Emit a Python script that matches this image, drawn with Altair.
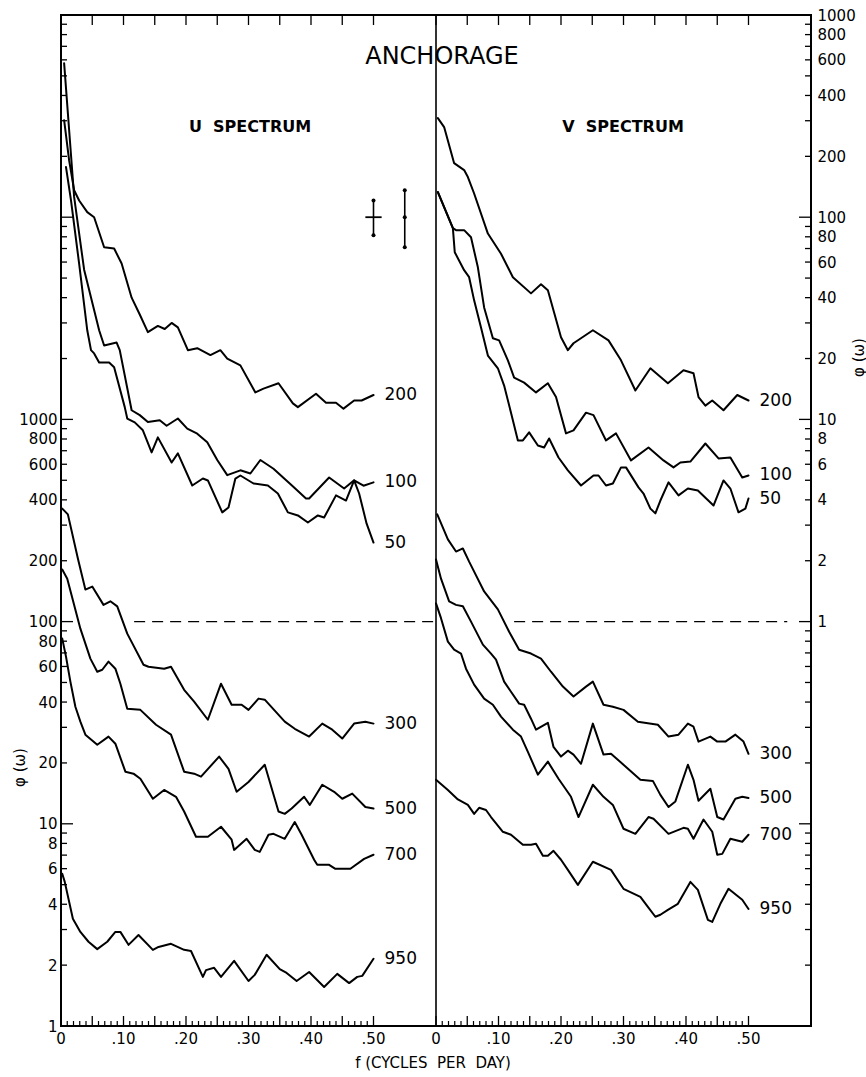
import altair as alt
import pandas as pd

# ---------------- data ----------------
# Upper group (read on the right-hand axis), U spectrum
U200_F = [0.005, 0.013, 0.021, 0.029, 0.042, 0.053, 0.069, 0.085, 0.097, 0.113, 0.126, 0.139, 0.155, 0.166, 0.177, 0.187, 0.203, 0.218, 0.239, 0.255, 0.266, 0.287, 0.311, 0.324, 0.348, 0.371, 0.379, 0.408, 0.424, 0.440, 0.452, 0.469, 0.481, 0.500]
U200_PHI = [302, 191, 136, 121, 106, 100, 71, 70, 59, 40, 33, 27, 29, 28, 30, 28.5, 22, 22.5, 20.8, 22, 20, 18.5, 13.6, 14.2, 15.1, 12.0, 11.5, 13.4, 12.1, 12.1, 11.3, 12.4, 12.4, 13.2]
U100_F = [0.005, 0.013, 0.021, 0.037, 0.061, 0.069, 0.089, 0.094, 0.113, 0.126, 0.139, 0.158, 0.169, 0.187, 0.202, 0.218, 0.234, 0.250, 0.266, 0.287, 0.303, 0.319, 0.340, 0.373, 0.392, 0.397, 0.429, 0.453, 0.469, 0.484, 0.500]
U100_PHI = [578, 270, 126, 55, 27.6, 23.2, 24, 22, 11.1, 10.5, 9.7, 9.9, 9.3, 10.1, 9.0, 8.5, 7.7, 6.3, 5.3, 5.6, 5.4, 6.3, 5.7, 4.6, 4.06, 4.06, 5.16, 4.55, 5.0, 4.7, 4.88]
U50_F = [0.008, 0.016, 0.029, 0.042, 0.048, 0.053, 0.061, 0.077, 0.085, 0.102, 0.106, 0.118, 0.131, 0.145, 0.155, 0.177, 0.187, 0.210, 0.227, 0.235, 0.258, 0.268, 0.279, 0.287, 0.308, 0.331, 0.347, 0.363, 0.379, 0.395, 0.411, 0.421, 0.440, 0.456, 0.469, 0.477, 0.489, 0.500]
U50_PHI = [177, 121, 59, 27.6, 22, 21.2, 19.1, 19.1, 18.1, 11.5, 10.1, 9.67, 8.83, 6.87, 8.15, 6.12, 6.79, 4.71, 5.10, 4.99, 3.47, 3.67, 5.10, 5.28, 4.82, 4.71, 4.30, 3.47, 3.35, 3.09, 3.35, 3.27, 4.21, 3.97, 4.99, 4.30, 3.05, 2.46]

# Upper group, V spectrum
V200_F = [0.003, 0.013, 0.029, 0.045, 0.051, 0.061, 0.083, 0.104, 0.123, 0.152, 0.168, 0.179, 0.200, 0.211, 0.220, 0.251, 0.276, 0.296, 0.319, 0.343, 0.371, 0.396, 0.412, 0.420, 0.431, 0.442, 0.460, 0.482, 0.500]
V200_PHI = [309, 279, 185, 171, 158, 131, 83, 66, 50.5, 42, 46.6, 43.5, 25.5, 22, 23.8, 27.6, 24.6, 19.6, 13.9, 17.9, 15.1, 17.5, 16.9, 12.9, 11.7, 12.4, 11.1, 13.2, 12.4]
V100_F = [0.003, 0.027, 0.032, 0.045, 0.056, 0.067, 0.077, 0.091, 0.101, 0.115, 0.125, 0.141, 0.160, 0.179, 0.192, 0.208, 0.220, 0.240, 0.252, 0.272, 0.288, 0.312, 0.340, 0.364, 0.380, 0.391, 0.407, 0.431, 0.452, 0.471, 0.490, 0.500]
V100_PHI = [133, 88.3, 86.3, 86.3, 79.6, 56.5, 35.8, 25.2, 24.6, 19.6, 16.1, 15.2, 13.6, 15.1, 12.9, 8.53, 8.83, 10.8, 10.5, 7.87, 8.53, 6.27, 7.26, 6.27, 5.79, 6.12, 6.19, 7.60, 6.41, 6.48, 5.16, 5.28]
V50_F = [0.003, 0.027, 0.030, 0.045, 0.053, 0.061, 0.072, 0.083, 0.099, 0.109, 0.120, 0.131, 0.139, 0.149, 0.163, 0.173, 0.181, 0.196, 0.211, 0.232, 0.252, 0.260, 0.272, 0.283, 0.296, 0.304, 0.324, 0.332, 0.343, 0.351, 0.359, 0.372, 0.388, 0.403, 0.419, 0.444, 0.460, 0.471, 0.484, 0.495, 0.500]
V50_PHI = [133, 88.3, 67.1, 54.7, 50.5, 38.8, 28.5, 20.7, 17.9, 14.7, 10.8, 7.87, 7.87, 8.63, 7.43, 7.26, 8.05, 6.48, 5.60, 4.71, 5.28, 5.28, 4.71, 4.82, 5.79, 5.79, 4.61, 4.30, 3.62, 3.43, 3.97, 4.88, 4.21, 4.55, 4.45, 3.75, 4.99, 4.55, 3.47, 3.62, 4.06]

# Lower group (read on the left-hand axis), U spectrum
U300_F = [0.002, 0.011, 0.027, 0.039, 0.050, 0.068, 0.079, 0.090, 0.106, 0.132, 0.140, 0.165, 0.176, 0.197, 0.213, 0.235, 0.256, 0.273, 0.289, 0.300, 0.316, 0.326, 0.358, 0.374, 0.397, 0.418, 0.434, 0.450, 0.469, 0.487, 0.500]
U300_PHI = [362, 339, 205, 144, 149, 121, 126, 119, 87.2, 61.2, 59.8, 58.5, 59.8, 46.0, 40.2, 32.7, 49.3, 38.8, 38.8, 36.6, 41.6, 41.1, 32.0, 29.5, 27.0, 31.3, 29.2, 26.4, 31.3, 32.0, 31.3]
U500_F = [0.002, 0.010, 0.031, 0.047, 0.058, 0.066, 0.076, 0.087, 0.095, 0.106, 0.127, 0.152, 0.176, 0.197, 0.213, 0.224, 0.253, 0.268, 0.281, 0.300, 0.326, 0.348, 0.358, 0.369, 0.389, 0.398, 0.418, 0.437, 0.450, 0.466, 0.487, 0.500]
U500_PHI = [181, 163, 92.3, 65.6, 56.5, 57.8, 63.4, 58.5, 49.3, 37.1, 36.6, 30.9, 27.6, 18.1, 17.7, 17.1, 21.5, 18.7, 14.4, 16.1, 19.6, 11.5, 11.2, 11.9, 13.6, 12.4, 15.6, 14.4, 13.3, 14.1, 12.1, 11.9]
U700_F = [0.002, 0.008, 0.015, 0.023, 0.031, 0.039, 0.058, 0.076, 0.087, 0.103, 0.116, 0.127, 0.147, 0.165, 0.184, 0.197, 0.216, 0.235, 0.256, 0.273, 0.277, 0.297, 0.310, 0.318, 0.332, 0.340, 0.358, 0.374, 0.385, 0.405, 0.410, 0.429, 0.439, 0.463, 0.485, 0.500]
U700_PHI = [82.4, 67.1, 50.5, 37.9, 32.0, 27.6, 24.6, 27.0, 24.9, 18.1, 17.7, 16.7, 13.3, 14.7, 13.6, 11.5, 8.63, 8.63, 9.67, 8.34, 7.43, 8.43, 7.43, 7.26, 8.83, 8.92, 8.43, 10.2, 8.83, 6.64, 6.27, 6.27, 5.99, 5.99, 6.71, 7.03]
U950_F = [0.002, 0.006, 0.019, 0.031, 0.044, 0.058, 0.074, 0.087, 0.095, 0.108, 0.124, 0.147, 0.156, 0.176, 0.197, 0.208, 0.227, 0.232, 0.245, 0.256, 0.277, 0.300, 0.310, 0.329, 0.350, 0.361, 0.377, 0.397, 0.421, 0.442, 0.461, 0.474, 0.482, 0.500]
U950_PHI = [5.66, 5.16, 3.39, 2.92, 2.61, 2.40, 2.61, 2.92, 2.92, 2.52, 2.82, 2.38, 2.46, 2.55, 2.38, 2.35, 1.75, 1.89, 1.94, 1.75, 2.10, 1.67, 1.79, 2.25, 1.91, 1.83, 1.67, 1.85, 1.56, 1.81, 1.63, 1.75, 1.77, 2.15]

# Lower group, V spectrum
V300_F = [0.002, 0.019, 0.032, 0.043, 0.053, 0.077, 0.099, 0.117, 0.133, 0.152, 0.168, 0.184, 0.203, 0.220, 0.240, 0.251, 0.268, 0.283, 0.300, 0.323, 0.355, 0.372, 0.388, 0.403, 0.412, 0.420, 0.439, 0.450, 0.463, 0.479, 0.492, 0.500]
V300_PHI = [339, 255, 222, 230, 198, 141, 115, 89.1, 72.6, 69.5, 65.6, 56.5, 47.7, 42.6, 47.7, 50.5, 38.8, 37.9, 36.6, 32.0, 30.9, 27.0, 27.6, 31.3, 30.2, 25.5, 27.0, 25.5, 25.5, 27.6, 25.5, 22.2]
V500_F = [0.0, 0.008, 0.021, 0.032, 0.043, 0.056, 0.075, 0.088, 0.096, 0.109, 0.120, 0.133, 0.141, 0.152, 0.160, 0.179, 0.188, 0.200, 0.211, 0.220, 0.232, 0.251, 0.268, 0.280, 0.300, 0.327, 0.347, 0.359, 0.372, 0.383, 0.403, 0.412, 0.420, 0.439, 0.450, 0.460, 0.479, 0.490, 0.500]
V500_PHI = [203, 163, 126, 121, 119, 100, 76.9, 69.5, 64.9, 50.5, 45.0, 39.3, 38.8, 33.1, 29.2, 31.6, 24.0, 21.5, 23.0, 22.0, 19.8, 31.3, 22.0, 22.2, 19.6, 16.5, 16.3, 13.9, 12.1, 12.9, 19.6, 16.5, 13.0, 14.9, 10.8, 10.5, 13.3, 13.6, 13.4]
V700_F = [0.0, 0.008, 0.019, 0.029, 0.040, 0.048, 0.061, 0.077, 0.091, 0.104, 0.123, 0.136, 0.147, 0.163, 0.179, 0.196, 0.216, 0.228, 0.251, 0.268, 0.283, 0.300, 0.319, 0.340, 0.348, 0.372, 0.396, 0.403, 0.412, 0.428, 0.442, 0.450, 0.458, 0.471, 0.490, 0.500]
V700_PHI = [123, 104, 79.6, 72.6, 69.5, 58.5, 48.8, 41.6, 38.8, 33.9, 29.2, 27.0, 22.7, 17.5, 20.3, 16.7, 13.6, 10.8, 15.6, 13.6, 12.4, 9.45, 8.92, 10.8, 10.6, 8.92, 9.55, 9.45, 8.43, 10.5, 9.13, 7.03, 7.10, 8.43, 8.15, 8.83]
V950_F = [0.0, 0.019, 0.035, 0.051, 0.061, 0.069, 0.080, 0.088, 0.107, 0.120, 0.139, 0.152, 0.160, 0.171, 0.179, 0.188, 0.200, 0.211, 0.227, 0.251, 0.280, 0.300, 0.327, 0.339, 0.351, 0.359, 0.371, 0.387, 0.407, 0.419, 0.435, 0.442, 0.455, 0.468, 0.490, 0.500]
V950_PHI = [16.5, 14.7, 13.2, 12.4, 11.2, 12.0, 11.7, 10.8, 9.13, 8.83, 7.87, 7.87, 7.96, 6.95, 6.95, 7.35, 6.64, 5.92, 4.99, 6.49, 5.92, 4.77, 4.35, 3.88, 3.47, 3.55, 3.75, 4.02, 5.16, 4.71, 3.35, 3.27, 4.02, 4.77, 4.21, 3.79]

# Confidence-interval markers (right-axis units, U panel)
ERR_F = [0.50, 0.55]
ERR_LO = [81.5, 71.0]
ERR_HI = [121.0, 136.0]
ERR_MID = [100.0, 100.0]
ERR_HALF = [0.013, 0.0]

# Dashed reference level (left-axis units)
DASH_PANEL = ["U", "V"]
DASH_FROM = [0.117, 0.125]
DASH_TO = [0.600, 0.562]
DASH_LEVEL = [100, 100]

# Tick labels and texts
LEFT_LABELS = [1, 2, 4, 6, 8, 10, 20, 40, 60, 80, 100, 200, 400, 600, 800, 1000]
RIGHT_LABELS = [1, 2, 4, 6, 8, 10, 20, 40, 60, 80, 100, 200, 400, 600, 800, 1000]
FREQ_LABELS = [0.0, 0.1, 0.2, 0.3, 0.4, 0.5]
FREQ_LABEL_TEXT = ["0", ".10", ".20", ".30", ".40", ".50"]
NB = "\u00a0"
X_TITLE = f"f{NB}(CYCLES{NB}{NB}PER{NB}{NB}DAY)"
U_TITLE = f"U{NB}{NB}SPECTRUM"
V_TITLE = f"V{NB}{NB}SPECTRUM"
PANEL_SPAN = 0.6

# ---------------- layout ----------------
W, H = 750, 1011
FONT = "DejaVu Sans"

series = [
    ("U", "200", "upper", U200_F, U200_PHI),
    ("U", "100", "upper", U100_F, U100_PHI),
    ("U", "50", "upper", U50_F, U50_PHI),
    ("V", "200", "upper", V200_F, V200_PHI),
    ("V", "100", "upper", V100_F, V100_PHI),
    ("V", "50", "upper", V50_F, V50_PHI),
    ("U", "300", "lower", U300_F, U300_PHI),
    ("U", "500", "lower", U500_F, U500_PHI),
    ("U", "700", "lower", U700_F, U700_PHI),
    ("U", "950", "lower", U950_F, U950_PHI),
    ("V", "300", "lower", V300_F, V300_PHI),
    ("V", "500", "lower", V500_F, V500_PHI),
    ("V", "700", "lower", V700_F, V700_PHI),
    ("V", "950", "lower", V950_F, V950_PHI),
]
rows = []
for panel, depth, grp, fs, vs in series:
    for i, (f, v) in enumerate(zip(fs, vs)):
        rows.append({"panel": panel, "depth": depth, "grp": grp, "f": f,
                     "phi": v, "i": i, "key": panel + depth})
df = pd.DataFrame(rows)
df_lower = df[df.grp == "lower"]
df_upper = df[df.grp == "upper"]
lab_lower = df_lower.groupby("key").tail(1)
lab_upper = df_upper.groupby("key").tail(1)

XPOS = f"datum.f + (datum.panel == 'V' ? {PANEL_SPAN} : 0)"
xscale = alt.Scale(domain=[0, 2 * PANEL_SPAN], nice=False, zero=False)
ylow = alt.Scale(type="log", domain=[1, 1e5], nice=False)
yup = alt.Scale(type="log", domain=[0.01, 1000], nice=False)
XN = alt.X("xpos:Q", scale=xscale, axis=None)

left_axis = alt.Axis(orient="left", values=LEFT_LABELS, format="d", ticks=False, domain=False,
                     grid=False, labelPadding=4, labelFontSize=15, title="φ (ω)",
                     titleAngle=-90, titleX=-42, titleY=752, titleAlign="center",
                     titleBaseline="middle", titleFontSize=15, titleFontWeight="normal")
right_axis = alt.Axis(orient="right", values=RIGHT_LABELS, format="d", ticks=False, domain=False,
                      grid=False, labelPadding=6, labelFontSize=15, title="φ (ω)",
                      titleAngle=-90, titleX=47, titleY=342, titleAlign="center",
                      titleBaseline="middle", titleFontSize=15, titleFontWeight="normal")

line_kw = dict(color="black", strokeWidth=2, strokeJoin="round", strokeCap="round")

lines_lower = alt.Chart(df_lower).transform_calculate(xpos=XPOS).mark_line(**line_kw).encode(
    x=XN, y=alt.Y("phi:Q", scale=ylow, axis=left_axis), detail="key:N", order="i:Q")
labels_lower = alt.Chart(lab_lower).transform_calculate(xpos=XPOS).mark_text(
    align="left", baseline="middle", dx=11, fontSize=17, font=FONT, color="black").encode(
    x=XN, y=alt.Y("phi:Q", scale=ylow, axis=None), text="depth:N")

lines_upper = alt.Chart(df_upper).transform_calculate(xpos=XPOS).mark_line(**line_kw).encode(
    x=XN, y=alt.Y("phi:Q", scale=yup, axis=right_axis), detail="key:N", order="i:Q")
labels_upper = alt.Chart(lab_upper).transform_calculate(xpos=XPOS).mark_text(
    align="left", baseline="middle", dx=11, fontSize=17, font=FONT, color="black").encode(
    x=XN, y=alt.Y("phi:Q", scale=yup, axis=None), text="depth:N")

# dashed reference line
dash_df = pd.DataFrame({"panel": DASH_PANEL, "f": DASH_FROM, "f2": DASH_TO, "lvl": DASH_LEVEL})
dash = alt.Chart(dash_df).transform_calculate(
    xpos=XPOS, xpos2=f"datum.f2 + (datum.panel == 'V' ? {PANEL_SPAN} : 0)").mark_rule(
    color="black", strokeWidth=1.3, strokeDash=[11, 7]).encode(
    x=XN, x2="xpos2:Q", y=alt.Y("lvl:Q", scale=ylow, axis=None))

# axis ticks drawn inward as rules
left_ticks = [m * 10 ** k for k in range(0, 5) for m in range(1, 10)] + [100000]
lt_df = pd.DataFrame({"v": left_ticks, "major": [v in (1, 10, 100, 1000, 10000, 100000) for v in left_ticks]})
lt_minor = alt.Chart(lt_df[~lt_df.major]).mark_rule(color="black", strokeWidth=1.3).encode(
    y=alt.Y("v:Q", scale=ylow, axis=None), x=alt.value(0), x2=alt.value(6))
lt_major = alt.Chart(lt_df[lt_df.major]).mark_rule(color="black", strokeWidth=1.3).encode(
    y=alt.Y("v:Q", scale=ylow, axis=None), x=alt.value(0), x2=alt.value(12))

right_ticks = [round(m * 10.0 ** k, 6) for k in range(-2, 3) for m in range(1, 10)] + [1000.0]
rt_df = pd.DataFrame({"v": right_ticks, "major": [v in (0.01, 0.1, 1.0, 10.0, 100.0, 1000.0) for v in right_ticks]})
rt_minor = alt.Chart(rt_df[~rt_df.major]).mark_rule(color="black", strokeWidth=1.3).encode(
    y=alt.Y("v:Q", scale=yup, axis=None), x=alt.value(W - 6), x2=alt.value(W))
rt_major = alt.Chart(rt_df[rt_df.major]).mark_rule(color="black", strokeWidth=1.3).encode(
    y=alt.Y("v:Q", scale=yup, axis=None), x=alt.value(W - 12), x2=alt.value(W))

top_rows = [{"panel": p, "f": round(0.05 * i, 2)} for p in ("U", "V") for i in range(11)]
top_t = alt.Chart(pd.DataFrame(top_rows)).transform_calculate(xpos=XPOS).mark_rule(
    color="black", strokeWidth=1.3).encode(x=XN, y=alt.value(0), y2=alt.value(10))
bot_rows = [{"panel": p, "f": round(0.01 * i, 2), "major": i % 5 == 0} for p in ("U", "V") for i in range(51)]
bot_df = pd.DataFrame(bot_rows)
bot_minor = alt.Chart(bot_df[~bot_df.major]).transform_calculate(xpos=XPOS).mark_rule(
    color="black", strokeWidth=1.2).encode(x=XN, y=alt.value(H - 5), y2=alt.value(H))
bot_major = alt.Chart(bot_df[bot_df.major]).transform_calculate(xpos=XPOS).mark_rule(
    color="black", strokeWidth=1.3).encode(x=XN, y=alt.value(H - 10), y2=alt.value(H))

# frequency tick labels for both panels, placed through the x scale
xl_rows = [{"panel": p, "f": v, "t": t} for p in ("U", "V") for v, t in zip(FREQ_LABELS, FREQ_LABEL_TEXT)]
x_labels = alt.Chart(pd.DataFrame(xl_rows)).transform_calculate(xpos=XPOS).mark_text(
    fontSize=15, font=FONT, color="black", align="center", baseline="top").encode(
    x=XN, y=alt.value(H + 6), text="t:N")

divider = alt.Chart(pd.DataFrame({"xpos": [PANEL_SPAN]})).mark_rule(
    color="black", strokeWidth=1.6).encode(x=XN, y=alt.value(0), y2=alt.value(H))

# confidence markers
err_df = pd.DataFrame({"f": ERR_F, "lo": ERR_LO, "hi": ERR_HI, "mid": ERR_MID, "half": ERR_HALF})
err_v = alt.Chart(err_df).transform_calculate(xpos="datum.f").mark_rule(
    color="black", strokeWidth=1.6).encode(x=XN, y=alt.Y("lo:Q", scale=yup, axis=None), y2="hi:Q")
err_h = alt.Chart(err_df[err_df.half > 0]).transform_calculate(
    xpos="datum.f - datum.half", xpos2="datum.f + datum.half").mark_rule(
    color="black", strokeWidth=1.8).encode(x=XN, x2="xpos2:Q", y=alt.Y("mid:Q", scale=yup, axis=None))
pts = []
for f, lo, hi, mid, half in zip(ERR_F, ERR_LO, ERR_HI, ERR_MID, ERR_HALF):
    pts += [{"xpos": f, "v": lo}, {"xpos": f, "v": hi}]
    if half == 0:
        pts.append({"xpos": f, "v": mid})
err_p = alt.Chart(pd.DataFrame(pts)).mark_point(filled=True, size=16, color="black", opacity=1).encode(
    x=XN, y=alt.Y("v:Q", scale=yup, axis=None))

# titles
def txt(s, x, y, size, weight="normal"):
    return alt.Chart(pd.DataFrame({"t": [s]})).mark_text(
        fontSize=size, font=FONT, color="black", align="center", baseline="middle",
        fontWeight=weight).encode(x=alt.value(x), y=alt.value(y), text="t:N")

titles = [txt("ANCHORAGE", 381, 42, 24), txt(U_TITLE, 189, 112, 16, "bold"),
          txt(V_TITLE, 562, 112, 16, "bold"), txt(X_TITLE, 372, H + 37, 15)]

# All y scales have fixed domains and the same range, so independent scales map identically;
# the lower group carries the left axis and the upper group the right axis.
chart = alt.layer(
    lines_lower, lines_upper, labels_lower, labels_upper, dash, lt_minor, lt_major,
    rt_minor, rt_major, top_t, bot_minor, bot_major, x_labels, divider, err_v, err_h, err_p,
    *titles
).resolve_scale(y="independent").properties(
    width=W, height=H,
    padding={"left": 61, "top": 15, "right": 55, "bottom": 51},
    autosize=alt.AutoSizeParams(type="none"),
    background="white",
).configure_view(stroke="black", strokeWidth=2).configure_axis(
    labelFont=FONT, titleFont=FONT, labelColor="black", titleColor="black"
).configure_text(font=FONT)

chart.save("out.html", embed_options={"renderer": "svg", "actions": False})
